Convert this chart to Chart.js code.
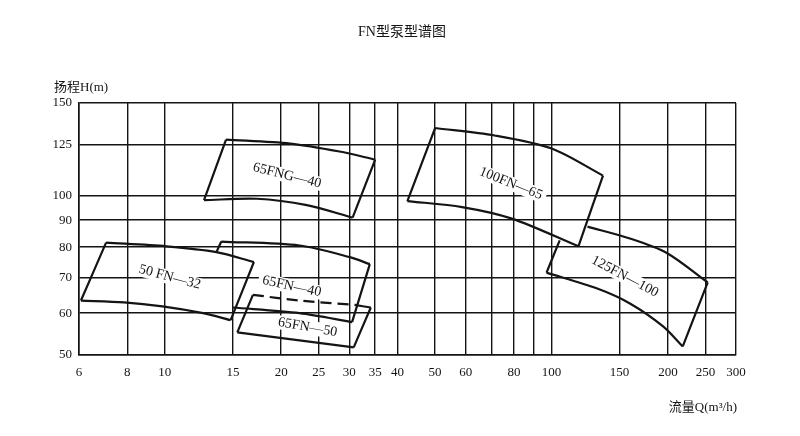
<!DOCTYPE html>
<html>
<head>
<meta charset="utf-8">
<script src="https://cdn.jsdelivr.net/npm/chart.js@4.4.1/dist/chart.umd.min.js"></script>
<style>
  html, body { margin: 0; padding: 0; background: #fff; }
  #wrap { width: 800px; height: 436px; }
</style>
</head>
<body>
<div id="wrap"><canvas id="chart"></canvas></div>
<script>
// FN pump range chart: flow Q (m3/h) vs head H (m), both log scale

const qGrid = [6, 8, 10, 15, 20, 25, 30, 35, 40, 50, 60, 70, 80, 90, 100, 150, 200, 250, 300];
const qLabels = [6, 8, 10, 15, 20, 25, 30, 35, 40, 50, 60, 80, 100, 150, 200, 250, 300];
const hGrid = [50, 60, 70, 80, 90, 100, 125, 150];

// each pump area: top curve and bottom curve as [Q, H], left to right
const fn50_32Top = [[7.05, 81.6], [10.1, 80.3], [13.6, 78.3], [17.0, 75.0]];
const fn50_32Bottom = [[6.07, 63.4], [7.84, 62.9], [9.86, 61.8], [12.56, 60.0], [14.8, 58.2]];

const fng65_40Top = [[14.4, 127.9], [21.1, 125.7], [28.3, 121.4], [35.0, 117.2]];
const fng65_40Bottom = [[12.63, 98.2], [17.3, 98.8], [23.3, 96.1], [30.6, 91.0]];

// partly hidden behind 50FN-32
const fn65_40Left = [[14.0, 82.0], [13.6, 78.3]];
const fn65_40Top = [[14.0, 82.0], [22.3, 80.6], [30.1, 76.6], [33.9, 74.3]];
const fn65_40Bottom = [[15.0, 61.5], [22.3, 60.0], [30.5, 57.7]];

// top edge dashed where it runs under 65FN-40
const fn65_50TopHidden = [[16.9, 65.0], [22.3, 63.4], [31.0, 62.2]];
const fn65_50TopOpen = [[31.0, 62.2], [34.1, 61.5]];
const fn65_50Bottom = [[15.4, 55.2], [22.3, 53.3], [30.8, 51.7]];

const fn100_65Top = [[50.0, 134.5], [71.3, 130.2], [100.1, 123.0], [135.9, 109.3]];
const fn100_65Bottom = [[42.4, 97.8], [58.7, 95.3], [79.0, 90.6], [117.4, 80.3]];

// partly hidden behind 100FN-65
const fn125_100Left = [[105.0, 82.4], [97.1, 71.6]];
const fn125_100Top = [[123.9, 87.5], [159.5, 83.1], [198.7, 78.0], [253.5, 68.6]];
const fn125_100Bottom = [[97.1, 71.6], [131.3, 66.8], [159.5, 62.6], [194.0, 56.7], [218.5, 51.9]];

const pumpNames = ['50 FN—32', '65FNG—40', '65FN—40', '65FN—50', '100FN—65', '125FN—100'];
const nameAt = [[10.3, 70.2], [20.7, 109.3], [21.3, 67.4], [23.4, 56.4], [78.5, 105.6], [154.8, 70.4]];
const nameTilt = [15, 14, 12, 10, 22, 28];

const serif = "'Liberation Serif', 'DejaVu Serif', 'Noto Sans CJK SC', serif";
const ink = '#141414';

// ---- build outline edges ----
const edges = [];
function edge(points, dash) { edges.push({ points, dash: dash || [] }); }
function last(a) { return a[a.length - 1]; }

edge(fn50_32Top); edge(fn50_32Bottom);
edge([fn50_32Top[0], fn50_32Bottom[0]]); edge([last(fn50_32Top), last(fn50_32Bottom)]);

edge(fng65_40Top); edge(fng65_40Bottom);
edge([fng65_40Top[0], fng65_40Bottom[0]]); edge([last(fng65_40Top), last(fng65_40Bottom)]);

edge(fn65_40Left); edge(fn65_40Top); edge(fn65_40Bottom);
edge([last(fn65_40Top), last(fn65_40Bottom)]);

edge(fn65_50TopHidden, [11, 6]); edge(fn65_50TopOpen); edge(fn65_50Bottom);
edge([fn65_50TopHidden[0], fn65_50Bottom[0]]); edge([last(fn65_50TopOpen), last(fn65_50Bottom)]);

edge(fn100_65Top); edge(fn100_65Bottom);
edge([fn100_65Top[0], fn100_65Bottom[0]]); edge([last(fn100_65Top), last(fn100_65Bottom)]);

edge(fn125_100Left); edge(fn125_100Top); edge(fn125_100Bottom);
edge([last(fn125_100Top), last(fn125_100Bottom)]);

const datasets = edges.map(e => ({
  data: e.points.map(p => ({ x: p[0], y: p[1] })),
  showLine: true,
  borderColor: ink,
  borderWidth: 2.2,
  borderDash: e.dash,
  pointRadius: 0,
  tension: 0.3,
  fill: false
}));

// ---- text: pump names, titles ----
const textPlugin = {
  id: 'chartText',
  afterDatasetsDraw(chart) {
    const { ctx, scales: { x, y } } = chart;
    ctx.save();
    ctx.font = '14px ' + serif;
    ctx.textAlign = 'center';
    ctx.textBaseline = 'middle';
    pumpNames.forEach((name, i) => {
      const px = x.getPixelForValue(nameAt[i][0]);
      const py = y.getPixelForValue(nameAt[i][1]);
      const w = ctx.measureText(name).width;
      ctx.save();
      ctx.translate(px, py);
      ctx.rotate(nameTilt[i] * Math.PI / 180);
      ctx.fillStyle = '#fff';
      ctx.fillRect(-w / 2 - 4, -7, w + 8, 14);
      ctx.fillStyle = ink;
      ctx.fillText(name, 0, 0);
      ctx.restore();
    });
    ctx.restore();
  },
  afterDraw(chart) {
    const ctx = chart.ctx;
    ctx.save();
    ctx.fillStyle = ink;
    ctx.textBaseline = 'middle';
    ctx.font = '14px ' + serif;
    ctx.textAlign = 'center';
    ctx.fillText('FN型泵型谱图', 402, 32);
    ctx.font = '13px ' + serif;
    ctx.textAlign = 'left';
    ctx.fillText('扬程H(m)', 54, 88);
    ctx.textAlign = 'right';
    ctx.fillText('流量Q(m³/h)', 737, 408);
    ctx.restore();
  }
};

const whiteBg = {
  id: 'whiteBg',
  beforeDraw(chart) {
    const ctx = chart.ctx;
    ctx.save();
    ctx.fillStyle = '#fff';
    ctx.fillRect(0, 0, chart.width, chart.height);
    ctx.restore();
  }
};

new Chart(document.getElementById('chart'), {
  type: 'scatter',
  data: { datasets },
  options: {
    responsive: true,
    maintainAspectRatio: false,
    animation: false,
    layout: { padding: { top: 103, right: 64, bottom: 0, left: 0 } },
    plugins: { legend: { display: false }, tooltip: { enabled: false }, title: { display: false } },
    scales: {
      x: {
        type: 'logarithmic',
        min: 6, max: 300,
        afterBuildTicks: s => { s.ticks = qGrid.map(v => ({ value: v })); },
        afterFit: s => { s.height = 81; },
        ticks: {
          autoSkip: false, maxRotation: 0, padding: 10,
          color: ink, font: { family: serif, size: 13 },
          callback: v => qLabels.includes(v) ? String(v) : ''
        },
        grid: { color: ink, lineWidth: 1.4, drawTicks: false },
        border: { color: ink, width: 1.6 }
      },
      y: {
        type: 'logarithmic',
        min: 50, max: 150,
        afterBuildTicks: s => { s.ticks = hGrid.map(v => ({ value: v })); },
        afterFit: s => { s.width = 79; },
        ticks: {
          autoSkip: false, padding: 7,
          color: ink, font: { family: serif, size: 13 },
          callback: v => String(v)
        },
        grid: { color: ink, lineWidth: 1.4, drawTicks: false },
        border: { color: ink, width: 1.6 }
      }
    }
  },
  plugins: [whiteBg, textPlugin]
});
</script>
</body>
</html>
